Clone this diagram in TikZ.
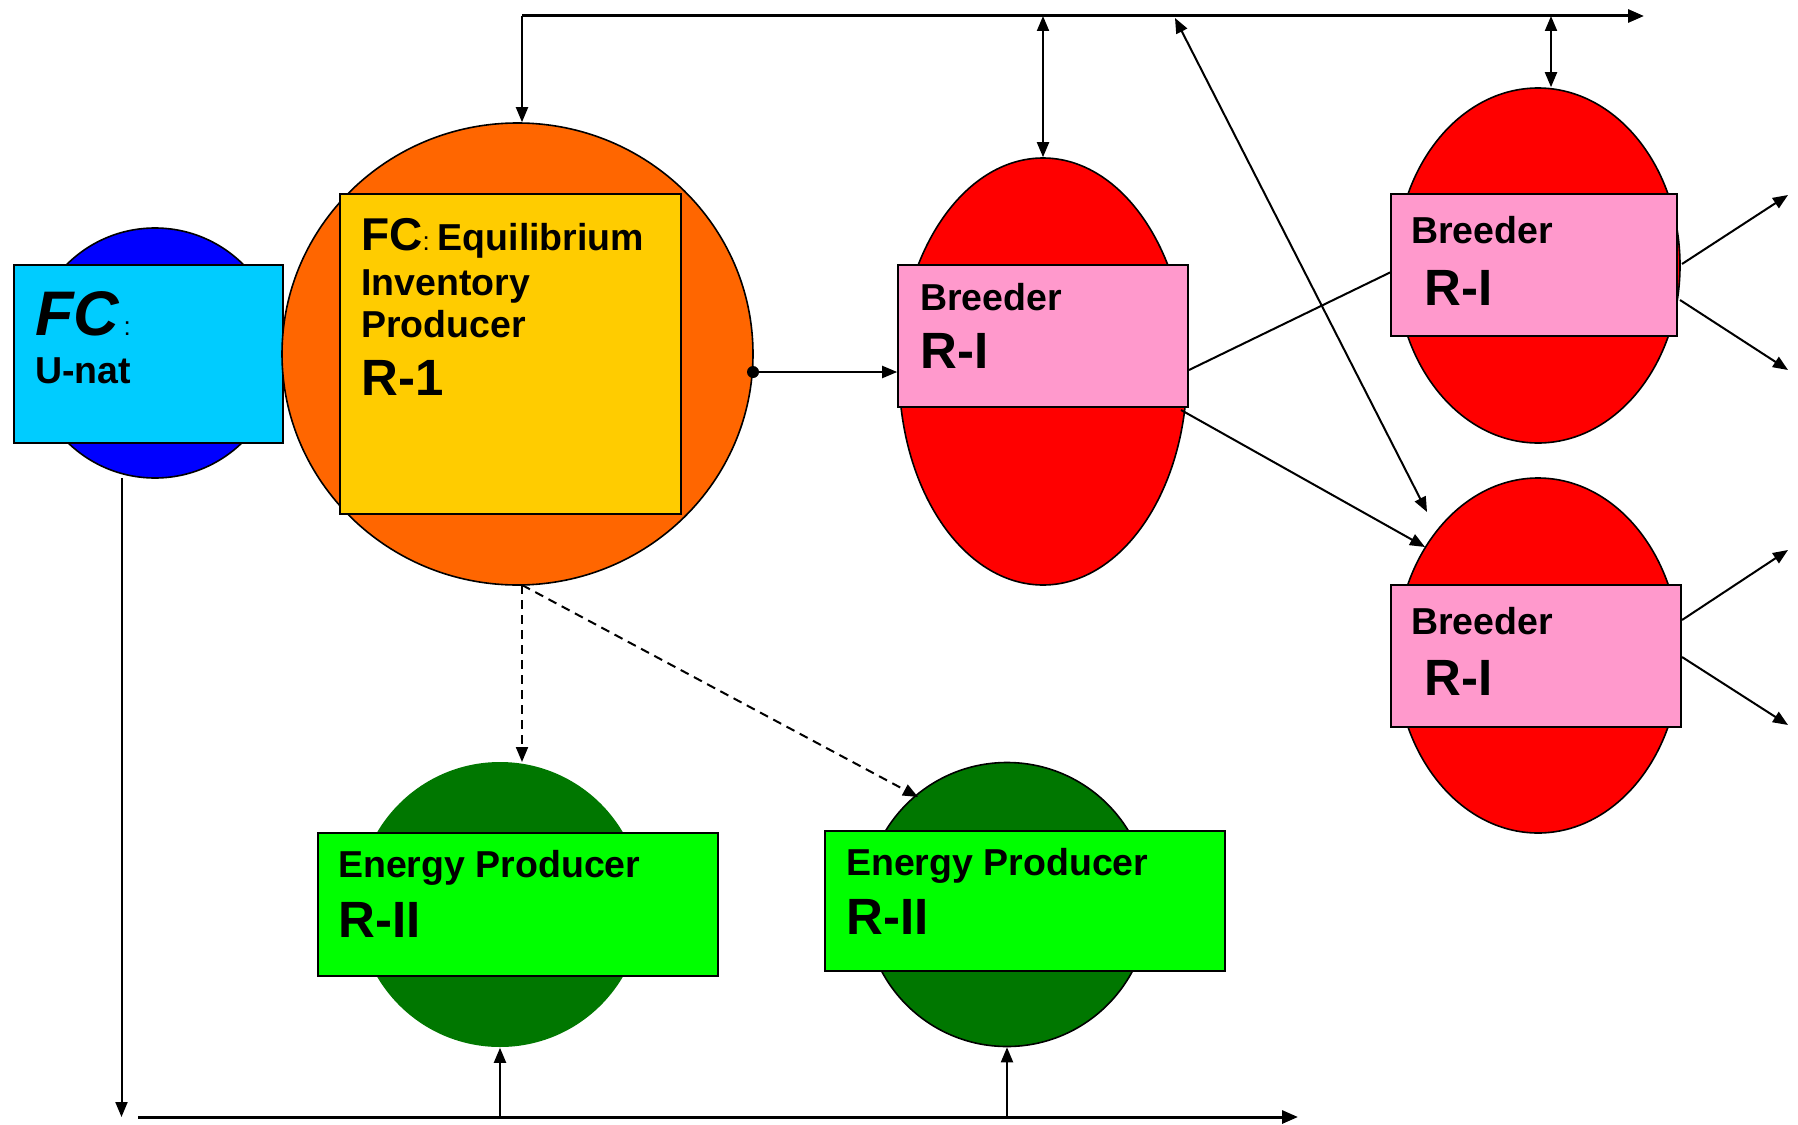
\documentclass[tikz,border=0pt]{standalone}
\usepackage{fontspec}
\setmainfont{Liberation Sans}
\usetikzlibrary{shapes.geometric,arrows.meta}
\definecolor{orangeC}{HTML}{FF6600}
\definecolor{yellowC}{HTML}{FFCC00}
\definecolor{cyanC}{HTML}{00CCFF}
\definecolor{blueC}{HTML}{0000FF}
\definecolor{redC}{HTML}{FF0000}
\definecolor{pinkC}{HTML}{FF99CC}
\definecolor{dgreenC}{HTML}{007700}
\definecolor{lgreenC}{HTML}{00FF00}
\begin{document}
\begin{tikzpicture}[x=1pt,y=-1pt,
  blob/.style={ellipse, draw=black, line width=1.6pt, inner sep=0pt},
  panel/.style={rectangle, draw=black, line width=1.6pt, inner sep=0pt},
  conn/.style={line width=2pt, -{Triangle[length=15pt,width=12pt]}},
  dconn/.style={line width=2pt, {Triangle[length=15pt,width=12pt]}-{Triangle[length=15pt,width=12pt]}},
  bus/.style={line width=3pt, -{Triangle[length=16pt,width=13pt]}},
  dashconn/.style={conn, dash pattern=on 9pt off 6pt},
  lbl/.style={anchor=base west, inner sep=0pt, font=\bfseries\fontsize{37.5}{37.5}\selectfont},
  biglbl/.style={anchor=base west, inner sep=0pt, font=\bfseries\fontsize{51}{51}\selectfont}]
\useasboundingbox (0,0) rectangle (1798,1124);

% shapes
\node[blob, fill=blueC, minimum width=250pt, minimum height=250pt] (ucirc) at (155,353) {};
\node[panel, fill=cyanC, minimum width=269pt, minimum height=178pt] (ubox) at (148.5,354) {};
\node[blob, fill=orangeC, minimum width=471pt, minimum height=462pt] (ocirc) at (517.5,354) {};
\node[panel, fill=yellowC, minimum width=341pt, minimum height=320pt] (ybox) at (510.5,354) {};
\node[blob, fill=redC, minimum width=288pt, minimum height=427pt] (red1) at (1043,371.5) {};
\node[panel, fill=pinkC, minimum width=290pt, minimum height=142pt] (pink1) at (1043,336) {};
\node[blob, fill=redC, minimum width=284pt, minimum height=355pt] (red2) at (1538,265.5) {};
\node[panel, fill=pinkC, minimum width=286pt, minimum height=142pt] (pink2) at (1534,265) {};
\node[blob, fill=redC, minimum width=284pt, minimum height=355pt] (red3) at (1538,655.5) {};
\node[panel, fill=pinkC, minimum width=290pt, minimum height=142pt] (pink3) at (1536,656) {};
\node[blob, draw=none, fill=dgreenC, minimum width=285pt, minimum height=285pt] (gc1) at (500,904.5) {};
\node[panel, fill=lgreenC, minimum width=400pt, minimum height=143pt] (gbox1) at (518,904.5) {};
\node[blob, fill=dgreenC, minimum width=284pt, minimum height=284pt] (gc2) at (1007,904.5) {};
\node[panel, fill=lgreenC, minimum width=400pt, minimum height=140pt] (gbox2) at (1025,901) {};

% texts
\node[anchor=base west, inner sep=0pt] (tfc) at (35,335) {{\fontsize{63}{63}\selectfont\bfseries\itshape FC}{\fontsize{26}{26}\selectfont\,:}};
\node[lbl] (tunat) at (35,383) {U-nat};
\node[anchor=base west, inner sep=0pt] (tfc2) at (361,250) {{\fontsize{46}{46}\selectfont\bfseries FC}{\fontsize{26}{26}\selectfont:}\hspace{8pt}{\fontsize{37.5}{37.5}\selectfont\bfseries Equilibrium}};
\node[lbl] (tinv) at (361,295) {Inventory};
\node[lbl] (tprod) at (361,337) {Producer};
\node[biglbl] (tr1) at (361,395) {R-1};
\node[lbl] (tb1) at (920,310) {Breeder};
\node[biglbl] (tri1) at (920,368) {R-I};
\node[lbl] (tb2) at (1411,243) {Breeder};
\node[biglbl] (tri2) at (1424,305) {R-I};
\node[lbl] (tb3) at (1411,634) {Breeder};
\node[biglbl] (tri3) at (1424,695) {R-I};
\node[lbl] (te1) at (338,877) {Energy Producer};
\node[biglbl] (tr21) at (338,937) {R-II};
\node[lbl] (te2) at (846,875) {Energy Producer};
\node[biglbl] (tr22) at (846,934) {R-II};

% coordinates
\coordinate (tl) at (522,16);
\coordinate (tr) at (1644,16);
\coordinate (t1) at (1043,16);
\coordinate (t2) at (1551,16);
\coordinate (t3) at (1175,18);
\coordinate (e3) at (1427,512);
\coordinate (dot) at (753,372);
\coordinate (p1a) at (1189,370);
\coordinate (p2a) at (1391,272);
\coordinate (p1b) at (1181,410);
\coordinate (r3a) at (1425,547);
\coordinate (o2a) at (1682,264);
\coordinate (o2b) at (1788,195);
\coordinate (o2c) at (1680,300);
\coordinate (o2d) at (1788,370);
\coordinate (o3a) at (1682,620);
\coordinate (o3b) at (1788,550);
\coordinate (o3c) at (1682,657);
\coordinate (o3d) at (1788,725);
\coordinate (obot) at (522,585);
\coordinate (g1top) at (522,762);
\coordinate (g2top) at (918,797);
\coordinate (uleft) at (121.5,478);
\coordinate (udown) at (121.5,1117);
\coordinate (bl) at (138,1117);
\coordinate (br) at (1298,1117);
\coordinate (b1) at (500,1117);
\coordinate (b2) at (1007,1117);

% connectors
\draw[bus] (tl) -- (tr);
\draw[conn] (tl) -- (g1top |- ocirc.north);
\draw[dconn] (t1) -- (red1.north);
\draw[dconn] (t2) -- (t2 |- red2.north);
\draw[dconn] (t3) -- (e3);
\fill (dot) circle (6pt);
\draw[conn] (dot) -- (pink1.west |- dot);
\draw[line width=2pt] (p1a) -- (p2a);
\draw[conn] (p1b) -- (r3a);
\draw[conn] (o2a) -- (o2b);
\draw[conn] (o2c) -- (o2d);
\draw[conn] (o3a) -- (o3b);
\draw[conn] (o3c) -- (o3d);
\draw[dashconn] (obot) -- (g1top);
\draw[dashconn] (obot) -- (g2top);
\draw[conn] (uleft) -- (udown);
\draw[bus] (bl) -- (br);
\draw[conn] (b1) -- (gc1.south);
\draw[conn] (b2) -- (gc2.south);
\end{tikzpicture}
\end{document}
